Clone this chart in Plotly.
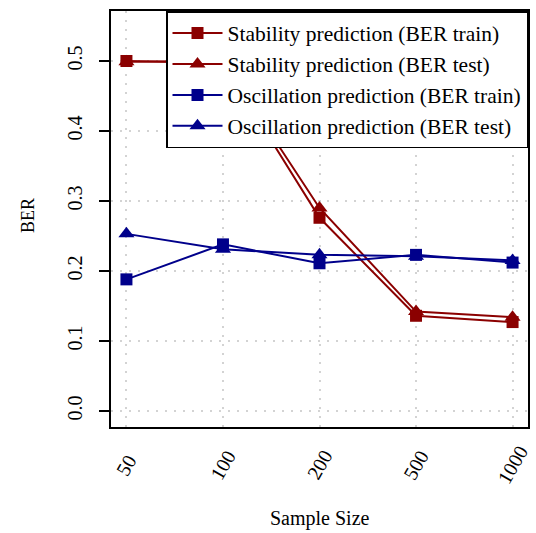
import plotly.graph_objects as go

# Sample sizes (categorical positions 1..5 on the x axis)
sample_sizes = ["50", "100", "200", "500", "1000"]
positions = [1, 2, 3, 4, 5]

# Balanced error rates
stab_train = [0.500, 0.497, 0.276, 0.136, 0.127]
stab_test = [0.499, 0.500, 0.290, 0.142, 0.134]
osc_train = [0.188, 0.238, 0.211, 0.223, 0.212]
osc_test = [0.253, 0.231, 0.223, 0.221, 0.215]

y_ticks = [0.0, 0.1, 0.2, 0.3, 0.4, 0.5]

DARKRED = "#8B0000"
DARKBLUE = "#00008B"
FONT = "'Liberation Serif', 'Times New Roman', Times, serif"
GRID = "#D3D3D3"

series = [
    ("Stability prediction (BER train)", stab_train, DARKRED, "square"),
    ("Stability prediction (BER test)", stab_test, DARKRED, "triangle-up"),
    ("Oscillation prediction (BER train)", osc_train, DARKBLUE, "square"),
    ("Oscillation prediction (BER test)", osc_test, DARKBLUE, "triangle-up"),
]

fig = go.Figure()
for name, vals, color, symbol in series:
    fig.add_trace(go.Scatter(
        x=positions, y=vals, name=name, mode="lines+markers",
        line=dict(color=color, width=2),
        marker=dict(symbol=symbol, color=color, size=12 if symbol == "square" else 14),
    ))

# Rotated sample-size labels, centred under each position
for pos, label in zip(positions, sample_sizes):
    fig.add_annotation(
        x=pos, y=-0.0913, xref="x", yref="paper",
        text=label, textangle=-60, showarrow=False,
        xanchor="center", yanchor="middle",
        font=dict(family=FONT, size=20, color="black"),
    )

# Axis titles
fig.add_annotation(
    x=0.5, y=-0.219, xref="paper", yref="paper", text="Sample Size",
    showarrow=False, xanchor="center", yanchor="middle",
    font=dict(family=FONT, size=20, color="black"),
)
fig.add_annotation(
    x=-0.199, y=0.507, xref="paper", yref="paper", text="BER", textangle=-90,
    showarrow=False, xanchor="center", yanchor="middle",
    font=dict(family=FONT, size=18, color="black"),
)

fig.update_layout(
    width=536, height=533,
    margin=dict(l=111, r=8, t=11, b=106),
    paper_bgcolor="white", plot_bgcolor="white",
    font=dict(family=FONT, size=20, color="black"),
    showlegend=True,
    legend=dict(
        x=1, y=1, xanchor="right", yanchor="top",
        bgcolor="white", bordercolor="black", borderwidth=1.5,
        font=dict(family=FONT, size=21.5, color="black"),
        tracegroupgap=0, itemwidth=50,
    ),
    xaxis=dict(
        range=[0.84, 5.16], tickmode="array", tickvals=positions,
        showticklabels=False, ticks="", automargin=False,
        showline=True, linecolor="black", linewidth=2, mirror=True,
        showgrid=True, gridcolor=GRID, griddash="2px,7px", gridwidth=1.5,
        zeroline=False,
    ),
    yaxis=dict(
        range=[-0.0229, 0.5714], tickmode="array", tickvals=y_ticks,
        ticktext=[f"{v:.1f}" for v in y_ticks],
        tickangle=-90, ticks="outside", ticklen=10, tickwidth=2, tickcolor="black",
        ticklabelstandoff=9, automargin=False,
        showline=True, linecolor="black", linewidth=2, mirror=True,
        showgrid=True, gridcolor=GRID, griddash="2px,7px", gridwidth=1.5,
        zeroline=False,
    ),
)

fig.write_html("out.html")
